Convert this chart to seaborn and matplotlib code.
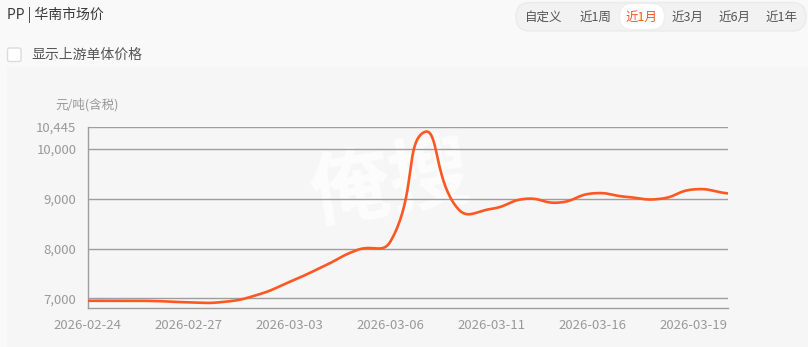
import numpy as np
import pandas as pd
import matplotlib
matplotlib.use("Agg")
import matplotlib.pyplot as plt
import seaborn as sns
from matplotlib.patches import FancyBboxPatch, Rectangle
from matplotlib.ticker import FixedLocator, FuncFormatter

# ---------------- data ----------------
dates = ["2026-02-24", "2026-02-25", "2026-02-26", "2026-02-27", "2026-02-28",
         "2026-03-02", "2026-03-03", "2026-03-04", "2026-03-05", "2026-03-06",
         "2026-03-09", "2026-03-10", "2026-03-11", "2026-03-12", "2026-03-13",
         "2026-03-16", "2026-03-17", "2026-03-18", "2026-03-19", "2026-03-20"]
prices = [6950, 6950, 6945, 6920, 6925, 7060, 7330, 7640, 7970, 8150,
          10342, 8800, 8800, 9000, 8925, 9110, 9040, 9000, 9190, 9110]
y_ticks = [7000, 8000, 9000, 10000]
x_tick_labels = ["2026-02-24", "2026-02-27", "2026-03-03", "2026-03-06",
                 "2026-03-11", "2026-03-16", "2026-03-19"]
title = "PP | 华南市场价"
unit_label = "元/吨(含税)"
check_label = "显示上游单体价格"
range_buttons = ["自定义", "近1周", "近1月", "近3月", "近6月", "近1年"]
selected_button = "近1月"
watermark = "俺搜"

# ---------------- style ----------------
sns.set_theme(style="white")
plt.rcParams['font.family'] = ['Noto Sans CJK SC', 'DejaVu Sans']

W, H = 808, 347
LINE = '#ff5722'
GRID = '#9e9e9e'
TICKTXT = '#999999'

fig = plt.figure(figsize=(W / 100, H / 100), dpi=100)
fig.patch.set_facecolor('#f9f9f9')

# overlay axes in pixel units (for UI decorations)
ov = fig.add_axes([0, 0, 1, 1], zorder=-1)
ov.set_xlim(0, W)
ov.set_ylim(H, 0)
ov.axis('off')
ov.patch.set_alpha(0)

ov.add_patch(Rectangle((7, 67), W - 7, H - 67, facecolor='#f6f6f6', edgecolor='none'))

ov.text(7, 15, title, ha='left', va='center', fontsize=10, color='#3a3a3a')

# checkbox
ov.add_patch(FancyBboxPatch((7.5, 48), 13.5, 13.5, boxstyle="round,pad=0,rounding_size=2",
                            facecolor='white', edgecolor='#dcdcdc', lw=1))
ov.text(31, 55, check_label, ha='left', va='center', fontsize=10, color='#555555',
        fontweight='medium')

# range button group
ov.add_patch(FancyBboxPatch((516, 2.5), 290, 28.5, boxstyle="round,pad=0,rounding_size=14",
                            facecolor='#f2f2f2', edgecolor='#ebebeb', lw=1))
centers = [544, 596, 642, 688, 735, 782]
for lab, cx in zip(range_buttons, centers):
    if lab == selected_button:
        ov.add_patch(FancyBboxPatch((cx - 22.5, 3.5), 45, 26, boxstyle="round,pad=0,rounding_size=13",
                                    facecolor='white', edgecolor='#eeeeee', lw=0.8))
        col = '#f5541f'
    else:
        col = '#555555'
    ov.text(cx, 17, lab, ha='center', va='center', fontsize=9, color=col)

# ---------------- main chart ----------------
x0, x1 = 87.5, 727.5
ytop, ybot = 127.0, 307.5
ax = fig.add_axes([x0 / W, (H - ybot) / H, (x1 - x0) / W, (ybot - ytop) / H], zorder=1)
ax.patch.set_alpha(0)

YMAX = round(max(prices) * 1.01)
YMIN = 6815
n = len(prices)
ax.set_xlim(0, n - 1)
ax.set_ylim(YMIN, YMAX)

# smooth line (ECharts-like bezier smoothing, computed in display space)
xs = np.arange(n, dtype=float)
P = ax.transData.transform(np.column_stack([xs, np.array(prices, dtype=float)]))
s = 0.5
cin = np.zeros_like(P)
cout = np.zeros_like(P)
for i in range(n):
    prev = P[i - 1] if i > 0 else P[i]
    nxt = P[i + 1] if i < n - 1 else P[i]
    v = nxt - prev
    l0 = np.hypot(*(P[i] - prev))
    l1 = np.hypot(*(nxt - P[i]))
    r = l1 / (l0 + l1) if (l0 + l1) > 0 else 0.5
    cin[i] = P[i] - v * s * (1 - r)
    cout[i] = P[i] + v * s * r
tt = np.linspace(0, 1, 40)[:, None]
segs = []
for i in range(n - 1):
    b = ((1 - tt) ** 3 * P[i] + 3 * (1 - tt) ** 2 * tt * cout[i]
         + 3 * (1 - tt) * tt ** 2 * cin[i + 1] + tt ** 3 * P[i + 1])
    segs.append(b if i == 0 else b[1:])
curve = ax.transData.inverted().transform(np.vstack(segs))
df = pd.DataFrame({"idx": curve[:, 0], "price": curve[:, 1]})
sns.lineplot(data=df, x="idx", y="price", ax=ax, sort=False, estimator=None,
             color=LINE, lw=1.9, zorder=3)

# grid & axes
for yv in y_ticks + [YMAX]:
    ax.axhline(yv, color=GRID, lw=1, zorder=1)
for sp in ['top', 'right']:
    ax.spines[sp].set_visible(False)
for sp in ['left', 'bottom']:
    ax.spines[sp].set_color(GRID)
    ax.spines[sp].set_linewidth(1)

ax.yaxis.set_major_locator(FixedLocator(y_ticks + [YMAX]))
ax.yaxis.set_major_formatter(FuncFormatter(lambda v, p: f"{int(round(v)):,}"))
tick_pos = [dates.index(d) for d in x_tick_labels]
ax.set_xticks(tick_pos)
ax.set_xticklabels(x_tick_labels)
ax.tick_params(axis='both', which='major', length=5, width=1, color=GRID,
               labelcolor=TICKTXT, direction='out')
ax.tick_params(axis='y', pad=3, labelsize=9.5)
ax.tick_params(axis='x', pad=3, labelsize=9.5)
ax.set_xlabel("")
ax.set_ylabel("")

ax.text(0, 1.0 + 22 / (ybot - ytop), unit_label, transform=ax.transAxes,
        ha='center', va='center', fontsize=9, color=TICKTXT)

# watermark
ax.text((390 - x0) / (x1 - x0), (ybot - 185) / (ybot - ytop), watermark,
        transform=ax.transAxes, ha='center', va='center', fontsize=58,
        fontweight='bold', color='white', alpha=0.7, rotation=9, zorder=0.5)

fig.savefig("out.png", dpi=100, facecolor=fig.get_facecolor())
